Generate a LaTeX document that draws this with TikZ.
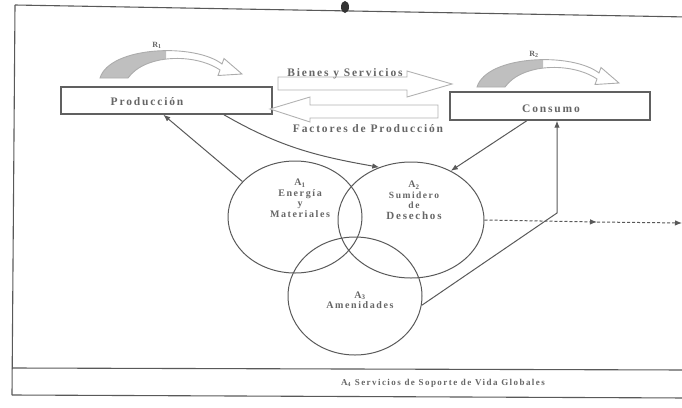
\documentclass[tikz,border=0pt]{standalone}
\usepackage{fontspec}
\setmainfont{Liberation Serif}[LetterSpace=16]
\usetikzlibrary{arrows.meta,shapes.geometric,calc}
\begin{document}
\begin{tikzpicture}[x=1pt,y=-1pt,
  ln/.style={draw=gray!70!black, line width=1pt},
  tipA/.style={-{Latex[length=7pt,width=5.5pt]}},
  frm/.style={draw=gray!70!black, line width=1.1pt},
  boxx/.style={draw=gray!75!black, line width=1.4pt, inner sep=0pt},
  ring/.style={ellipse, draw=gray!70!black, line width=1pt, inner sep=0pt},
  lbl/.style={text=gray!80!black, font=\bfseries\fontsize{10}{10.5}\selectfont, inner sep=0pt, align=center},
  big/.style={font=\bfseries\fontsize{11.5}{12}\selectfont},
  blk/.style={draw=gray!60, line width=0.9pt, fill=white},
  rarr/.pic={
    \begin{scope}
      \clip (-5,-50) rectangle (66,5);
      \fill[gray!50] (0,0) .. controls (10,-32) and (95,-35) .. (122,-14) -- (124,-19.5) -- (142,-4) -- (118,-2.5) -- (120,-8) .. controls (95,-25) and (45,-24) .. (28,0) -- cycle;
    \end{scope}
    \draw[gray!65, line width=0.9pt] (0,0) .. controls (10,-32) and (95,-35) .. (122,-14) -- (124,-19.5) -- (142,-4) -- (118,-2.5) -- (120,-8) .. controls (95,-25) and (45,-24) .. (28,0) -- cycle;
    \node[lbl, font=\bfseries\fontsize{8}{9}\selectfont] (-lab) at (57,-33) {R\textsubscript{#1}};
  }
]
\useasboundingbox (0,0) rectangle (682,407);

% frame
\draw[frm] (15,5) -- (688,17);
\draw[frm] (15,5) -- (12,395);
\draw[frm] (12,395) -- (688,398);
\draw[frm] (12,368) -- (688,370);
\fill[gray!40!black] (345,7) ellipse (4 and 6);

% boxes
\node[boxx, minimum width=211pt, minimum height=27pt] (Prod) at (166.5,100.5) {};
\node[lbl, big] (ProdT) at (147,102) {Producción};
\node[boxx, minimum width=200pt, minimum height=28pt] (Cons) at (550,106) {};
\node[lbl, big] (ConsT) at (551,109) {Consumo};

% recycling arrows
\pic at (100,78) {rarr=1};
\pic at (477,87) {rarr=2};

% block arrows
\draw[blk] (278,77) -- (407,77) -- (407,71) -- (452,84) -- (407,97) -- (407,90) -- (278,90) -- cycle;
\draw[blk] (438,105) -- (310,105) -- (310,97) -- (270,109) -- (310,122) -- (310,118) -- (438,118) -- cycle;
\node[lbl, big, anchor=base] (BS) at (345,76) {Bienes y Servicios};
\node[lbl, big, anchor=base] (FP) at (368,132) {Factores de Producción};

% circles
\node[ring, minimum width=134pt, minimum height=112pt] (A1) at (295,217) {};
\node[ring, minimum width=146pt, minimum height=116pt] (A2) at (411,220) {};
\node[ring, minimum width=134pt, minimum height=118pt] (A3) at (355,296) {};
\node[lbl] (A1T) at (300,198) {A\textsubscript{1}\\Energía\\y\\Materiales};
\node[lbl] (A2T) at (414,200) {A\textsubscript{2}\\{\fontsize{9.5}{10}\selectfont Sumidero}\\{\fontsize{9.5}{10}\selectfont de}\\{\fontsize{11}{12}\selectfont Desechos}};
\node[lbl] (A3T) at (360,300) {A\textsubscript{3}\\Amenidades};
\node[lbl, font=\bfseries\fontsize{9}{10}\selectfont] (A4T) at (443,383) {A\textsubscript{4} Servicios de Soporte de Vida Globales};

% connectors
\draw[ln,tipA] (A1.146) -- ($(Prod.south west)!0.485!(Prod.south east)$);
\draw[ln,tipA] ($(Prod.south west)!0.77!(Prod.south east)$) to[out=-30,in=170] (A2.121);
\draw[ln,tipA] ($(Cons.south west)!0.385!(Cons.south east)$) -- (A2.51);
\coordinate (knee) at (557,213);
\draw[ln,tipA] (A3.-8) -- (knee) -- (knee |- Cons.south);
\coordinate (mid) at (597,222);
\coordinate (endR) at (682,223);
\draw[ln, dash pattern=on 3pt off 2pt, tipA] (A2.east) -- (mid);
\draw[ln, dash pattern=on 3pt off 2pt, tipA] (mid) -- (endR);
\end{tikzpicture}
\end{document}
